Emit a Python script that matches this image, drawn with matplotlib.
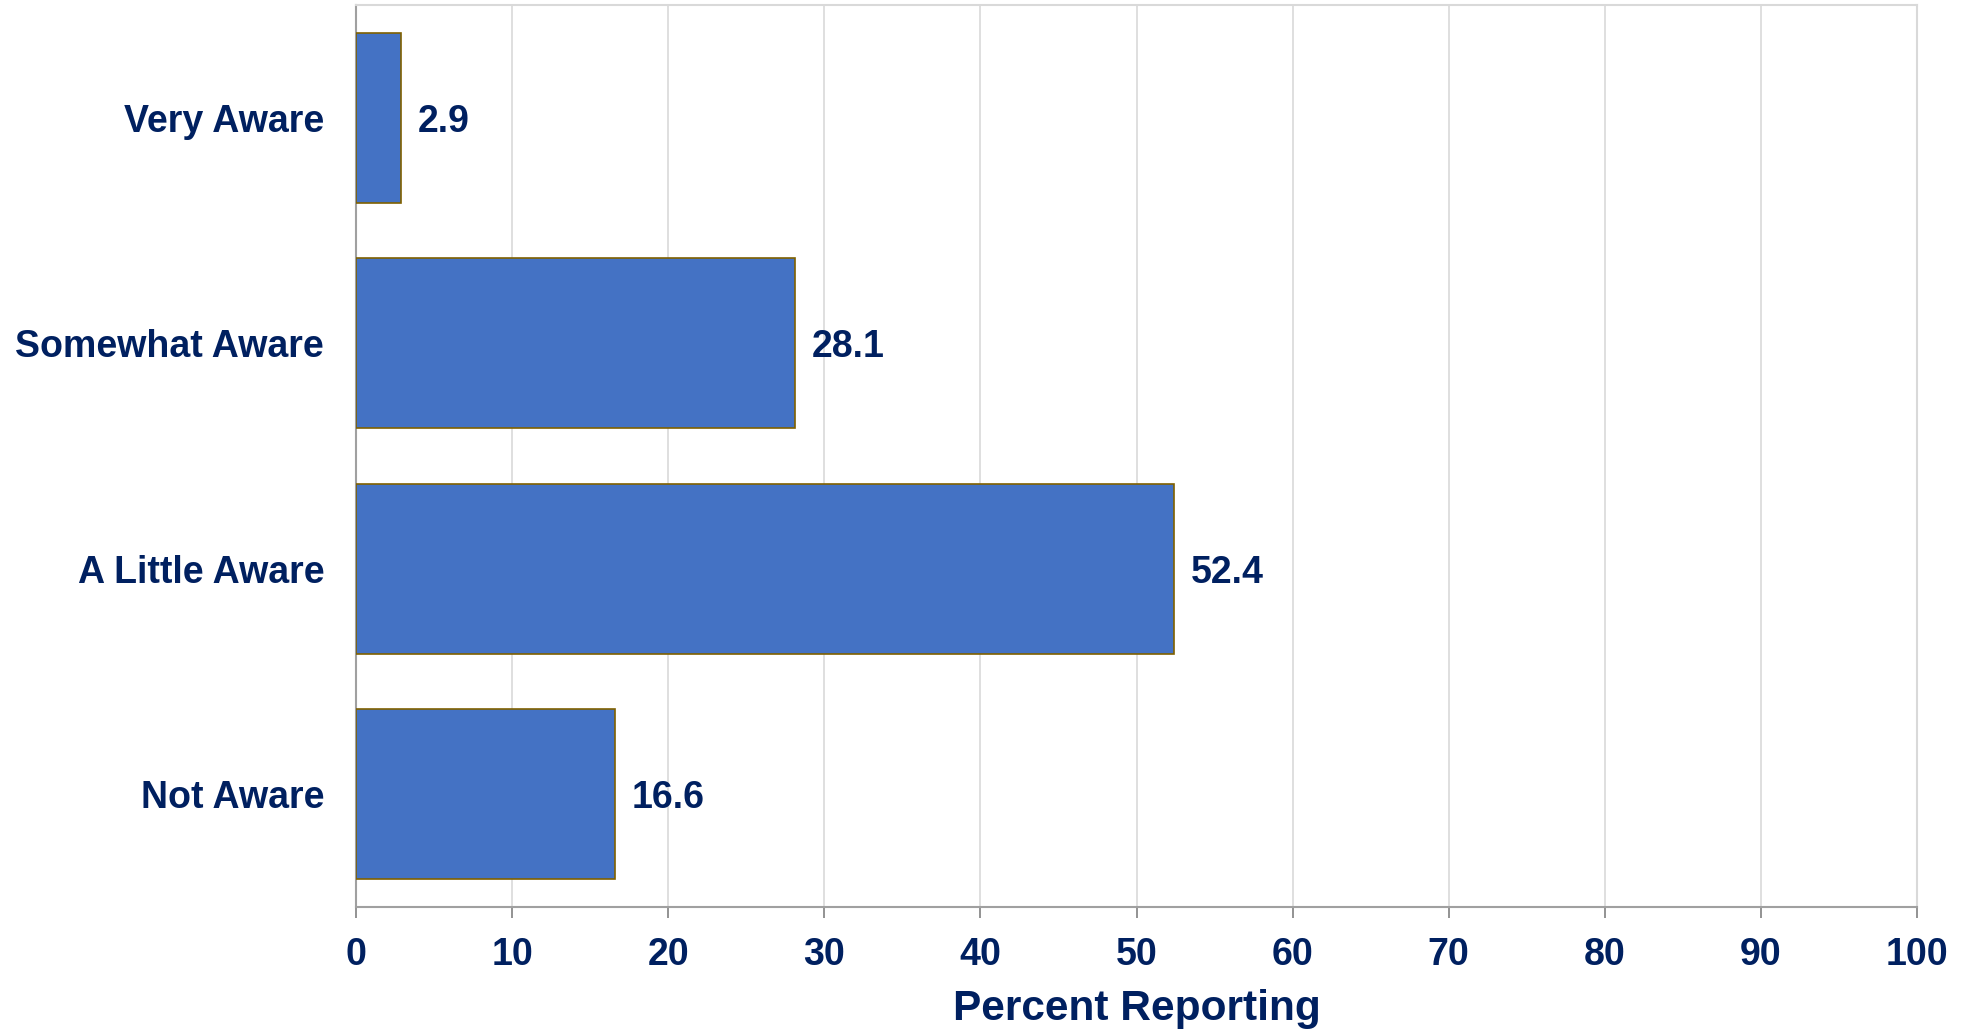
import matplotlib.pyplot as plt

categories = ['Not Aware', 'A Little Aware', 'Somewhat Aware', 'Very Aware']
values = [16.6, 52.4, 28.1, 2.9]
xticks = [0, 10, 20, 30, 40, 50, 60, 70, 80, 90, 100]

NAVY = '#002060'
plt.rcParams['font.family'] = ['Liberation Sans', 'DejaVu Sans']
plt.rcParams['font.weight'] = 'bold'

fig = plt.figure(figsize=(19.75, 10.29), dpi=100)
ax = fig.add_axes([0.1803, 0.1186, 0.7903, 0.8765])

ax.barh(range(len(categories)), values, height=0.755, color='#4472C4',
        edgecolor='#7F6000', linewidth=1.2, zorder=3)

# value labels to the right of each bar
for i, v in enumerate(values):
    ax.annotate(f'{v:.1f}', xy=(v, i), xytext=(12, -3), textcoords='offset points',
                va='center', ha='left', fontsize=27, fontweight='bold', color=NAVY)

ax.set_xlim(0, 100)
ax.set_ylim(-0.5, len(categories) - 0.5)
ax.set_xticks(xticks)
ax.set_yticks(range(len(categories)))
ax.set_yticklabels(categories)

ax.grid(axis='x', color='#D9D9D9', linewidth=1.2, zorder=0)
ax.set_axisbelow(True)

for s in ['top', 'right']:
    ax.spines[s].set_color('#D9D9D9')
    ax.spines[s].set_linewidth(1.5)
for s in ['left', 'bottom']:
    ax.spines[s].set_color('#A0A0A0')
    ax.spines[s].set_linewidth(1.5)

ax.tick_params(axis='x', length=8, width=1.2, color='#808080', pad=13.5,
               labelsize=27, labelcolor=NAVY)
ax.tick_params(axis='y', length=0, pad=23, labelsize=27, labelcolor=NAVY)

ax.set_xlabel('Percent Reporting', fontsize=30.5, fontweight='bold', color=NAVY, labelpad=12)

fig.savefig('out.png', dpi=100, facecolor='white')
